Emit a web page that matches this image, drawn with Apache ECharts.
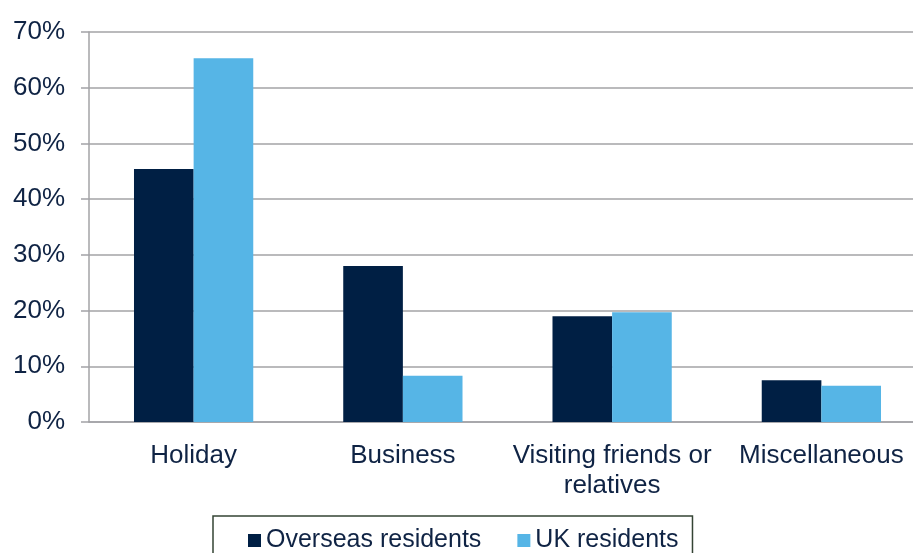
<!DOCTYPE html>
<html>
<head>
<meta charset="utf-8">
<script src="https://cdn.jsdelivr.net/npm/echarts@6/dist/echarts.min.js"></script>
<style>
  html, body { margin: 0; padding: 0; background: #fff; }
  #chart { width: 913px; height: 553px; }
</style>
</head>
<body>
<div id="chart"></div>
<script>
const categories = ['Holiday', 'Business', 'Visiting friends or\nrelatives', 'Miscellaneous']
const overseasResidents = [45.4, 28.0, 19.0, 7.5]
const ukResidents = [65.3, 8.3, 19.7, 6.5]
const seriesNames = ['Overseas residents', 'UK residents']

const textColor = '#0f2344'
const lineColor = '#a3a3a6'

const chart = echarts.init(document.getElementById('chart'))
const option = {
  animation: false,
  color: ['#001f44', '#56b5e6'],
  textStyle: { fontFamily: 'Liberation Sans, Arial, sans-serif' },
  grid: {
    left: 89,
    right: -13,
    top: 32,
    bottom: 131,
    outerBoundsMode: 'none'
  },
  legend: {
    data: seriesNames,
    left: 213,
    top: 516,
    padding: [12, 14, 30, 35],
    itemWidth: 13,
    itemHeight: 13,
    itemGap: 36,
    icon: 'rect',
    borderColor: '#344434',
    borderWidth: 1.5,
    textStyle: { color: textColor, fontSize: 25 }
  },
  xAxis: {
    type: 'category',
    data: categories,
    axisLine: { lineStyle: { color: lineColor, width: 1.5 } },
    axisTick: { length: 8, lineStyle: { color: lineColor, width: 1.5 } },
    axisLabel: {
      color: textColor,
      fontSize: 26,
      lineHeight: 30,
      margin: 19,
      interval: 0
    }
  },
  yAxis: {
    type: 'value',
    min: 0,
    max: 70,
    interval: 10,
    axisLine: { show: true, lineStyle: { color: lineColor, width: 1.5 } },
    axisTick: { show: true, length: 8, lineStyle: { color: lineColor, width: 1.5 } },
    splitLine: { lineStyle: { color: lineColor, width: 1.5 } },
    axisLabel: {
      color: textColor,
      fontSize: 26,
      margin: 24,
      formatter: '{value}%'
    }
  },
  series: [{
    name: seriesNames[0],
    type: 'bar',
    data: overseasResidents,
    barGap: '0%',
    barCategoryGap: '43%'
  }, {
    name: seriesNames[1],
    type: 'bar',
    data: ukResidents,
    barGap: '0%',
    barCategoryGap: '43%'
  }]
}
chart.setOption(option)
</script>
</body>
</html>
